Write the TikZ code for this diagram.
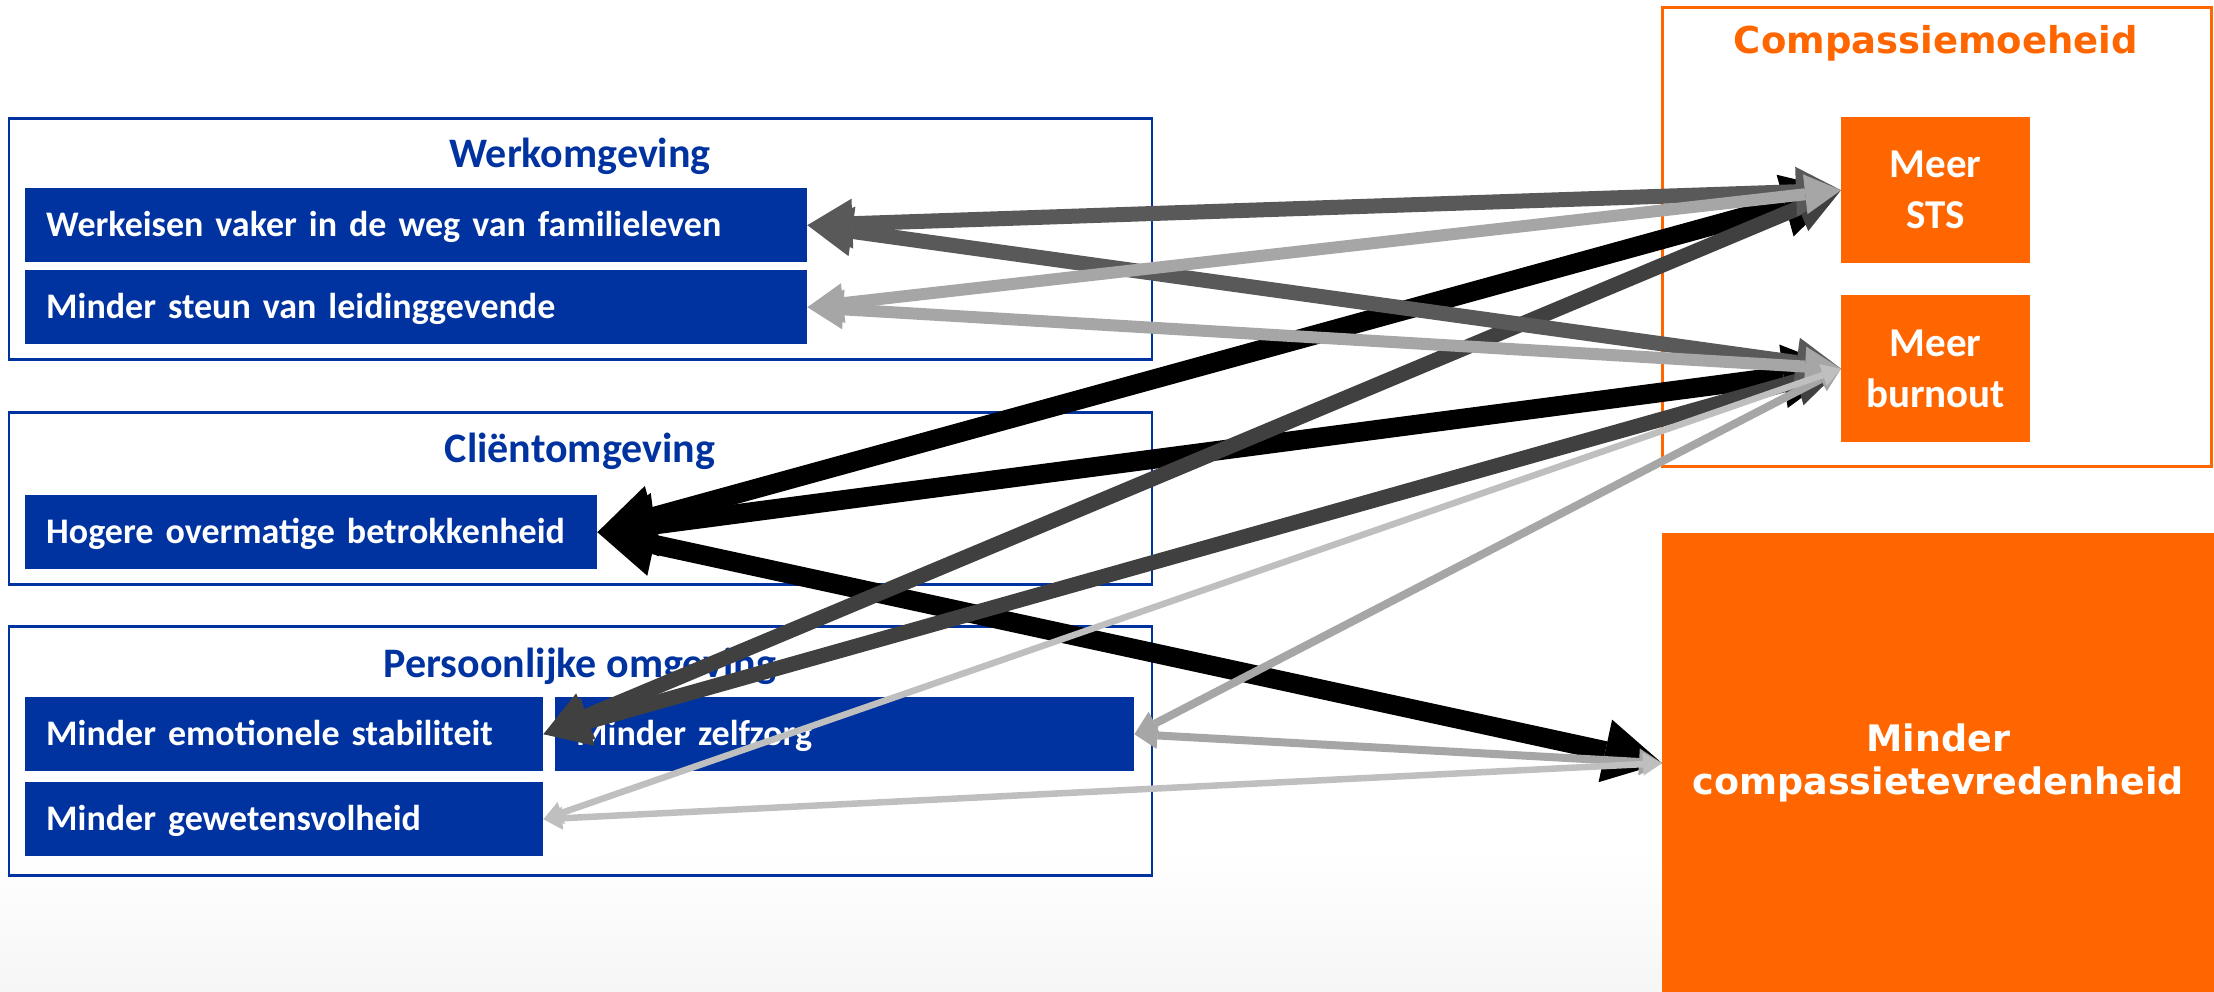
\documentclass[tikz,border=0pt]{standalone}
\usepackage{fontspec}
\setmainfont{Carlito}
\newfontfamily\vfont{DejaVu Sans}
\usetikzlibrary{arrows.meta}
\definecolor{pblue}{HTML}{0033A0}
\definecolor{porange}{HTML}{FF6600}
\definecolor{gA}{HTML}{404040}
\definecolor{gB}{HTML}{595959}
\definecolor{gC}{HTML}{A6A6A6}
\definecolor{gD}{HTML}{BFBFBF}
\definecolor{bgbot}{HTML}{F6F6F6}
\begin{document}
\begin{tikzpicture}[x=1pt,y=-1pt,
  grp/.style={draw=pblue, line width=2.5pt, inner sep=0pt, anchor=north west},
  grptitle/.style={anchor=base, text=pblue, font=\fontsize{42}{50}\selectfont\bfseries},
  bbox/.style={fill=pblue, draw=none, minimum height=74pt, inner xsep=21pt, inner ysep=0pt,
    text=white, align=left, anchor=north west, text height=22.7pt, text depth=0pt,
    font=\fontsize{36}{43}\selectfont\bfseries},
  obox/.style={fill=porange, draw=none, inner sep=0pt, text=white, align=center, anchor=north west,
    font=\fontsize{41}{51}\selectfont\bfseries},
  cblack/.style={draw=black, line width=19.5pt, >={Triangle[length=58pt,width=64pt,line width=0pt]}, <->},
  cdarkA/.style={draw=gA, line width=15pt, >={Triangle[length=46pt,width=50pt,line width=0pt]}, <->},
  cdarkB/.style={draw=gB, line width=15pt, >={Triangle[length=45pt,width=50pt,line width=0pt]}, <->},
  cmidA/.style={draw=gC, line width=12pt, >={Triangle[length=36pt,width=40pt,line width=0pt]}, <->},
  cmidB/.style={draw=gC, line width=8pt, >={Triangle[length=23pt,width=27pt,line width=0pt]}, <->},
  clight/.style={draw=gD, line width=6.5pt, >={Triangle[length=19pt,width=23pt,line width=0pt]}, <->}
]
\useasboundingbox (0,0) rectangle (2214,991);
\fill[white] (0,0) rectangle (2214,991);
\shade[top color=white, bottom color=bgbot] (0,850) rectangle (2214,991);

% left groups
\node[grp, minimum width=1143pt, minimum height=241pt] (werkgrp) at (7.6,117) {};
\node[grptitle] (werktitle) at (580,167) {Werkomgeving};
\node[bbox, minimum width=782pt, text width=740pt] (werk1) at (25,188) {Werkeisen vaker in de weg van familieleven};
\node[bbox, minimum width=782pt, text width=740pt] (werk2) at (25,270) {Minder steun van leidinggevende};

\node[grp, minimum width=1143pt, minimum height=172pt] (clientgrp) at (7.6,411) {};
\node[grptitle] (clienttitle) at (580,462) {Cliëntomgeving};
\node[bbox, minimum width=572pt, text width=530pt] (hogere) at (25,495) {Hogere overmatige betrokkenheid};

\node[grp, minimum width=1143pt, minimum height=249pt] (persgrp) at (7.6,625) {};
\node[grptitle] (perstitle) at (580,677) {Persoonlijke omgeving};
\node[bbox, minimum width=518pt, text width=476pt] (emot) at (25,697) {Minder emotionele stabiliteit};
\node[bbox, minimum width=579pt, text width=537pt] (zelf) at (555,697) {Minder zelfzorg};
\node[bbox, minimum width=518pt, text width=476pt] (gewet) at (25,782) {Minder gewetensvolheid};

% right side
\node[draw=porange, line width=2.5pt, inner sep=0pt, anchor=north west, minimum width=549pt, minimum height=459pt] (cmgrp) at (1661,6) {};
\node[anchor=base, text=porange, font=\vfont\fontsize{37}{44}\selectfont\bfseries] (cmtitle) at (1936,53) {Compassiemoeheid};
\node[obox, minimum width=189pt, minimum height=146pt] (sts) at (1841,117) {Meer\\STS};
\node[obox, minimum width=189pt, minimum height=147pt] (burnout) at (1841,295) {Meer\\burnout};
\node[obox, minimum width=552pt, minimum height=460pt, font=\vfont\fontsize{36.5}{43}\selectfont\bfseries] (mcv) at (1662,533) {Minder\\compassietevredenheid};

% connectors
\draw[cblack] (hogere.east) -- (sts.west);
\draw[cblack] (hogere.east) -- (burnout.west);
\draw[cblack] (hogere.east) -- (mcv.west);
\draw[cdarkA] (emot.east) -- (sts.west);
\draw[cdarkA] (emot.east) -- (burnout.west);
\draw[cdarkB] (werk1.east) -- (sts.west);
\draw[cdarkB] (werk1.east) -- (burnout.west);
\draw[cmidA] (werk2.east) -- (sts.west);
\draw[cmidA] (werk2.east) -- (burnout.west);
\draw[cmidB] (zelf.east) -- (burnout.west);
\draw[cmidB] (zelf.east) -- (mcv.west);
\draw[clight] (gewet.east) -- (burnout.west);
\draw[clight] (gewet.east) -- (mcv.west);
\end{tikzpicture}
\end{document}
